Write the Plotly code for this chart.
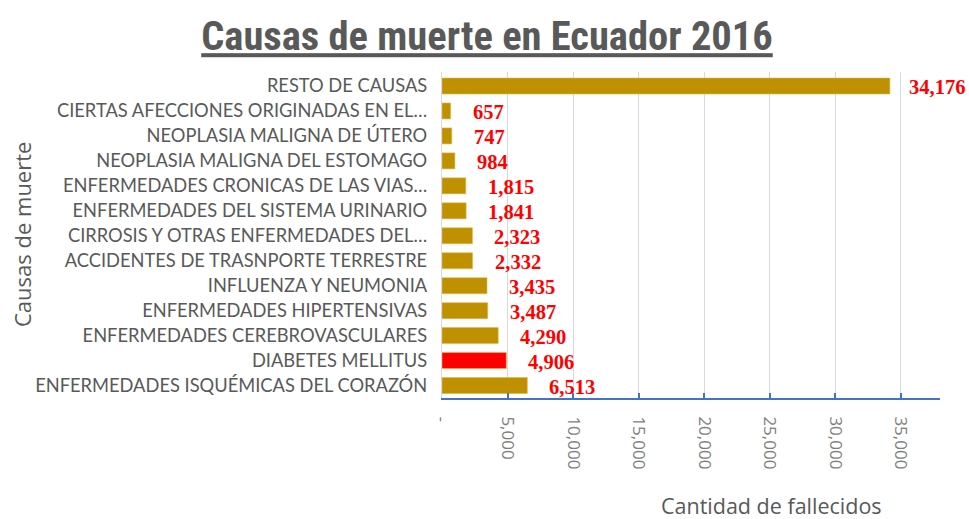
import plotly.graph_objects as go

causas = [
    "RESTO DE CAUSAS",
    "CIERTAS AFECCIONES ORIGINADAS EN EL…",
    "NEOPLASIA MALIGNA DE ÚTERO",
    "NEOPLASIA MALIGNA DEL ESTOMAGO",
    "ENFERMEDADES CRONICAS DE LAS VIAS…",
    "ENFERMEDADES DEL SISTEMA URINARIO",
    "CIRROSIS Y OTRAS ENFERMEDADES DEL…",
    "ACCIDENTES DE TRASNPORTE TERRESTRE",
    "INFLUENZA Y NEUMONIA",
    "ENFERMEDADES HIPERTENSIVAS",
    "ENFERMEDADES CEREBROVASCULARES",
    "DIABETES MELLITUS",
    "ENFERMEDADES ISQUÉMICAS DEL CORAZÓN",
]
fallecidos = [34176, 657, 747, 984, 1815, 1841, 2323, 2332, 3435, 3487, 4290, 4906, 6513]
colores = ["#BF9000"] * 11 + ["#FF0000", "#BF9000"]
tick_vals = [0, 5000, 10000, 15000, 20000, 25000, 30000, 35000]
tick_text = ["-", "5,000", "10,000", "15,000", "20,000", "25,000", "30,000", "35,000"]

W, H = 969, 519
L, R, T, B = 442, 29, 72, 121
PW, PH = W - L - R, H - T - B

fig = go.Figure()
fig.add_trace(go.Bar(
    y=causas, x=fallecidos, orientation="h",
    marker=dict(color=colores, line=dict(color="#E0B84A", width=0.6)),
    hoverinfo="x+y",
))

for c, v in zip(causas, fallecidos):
    fig.add_annotation(
        x=v, y=c, xref="x", yref="y", text="<b>{:,}</b>".format(v),
        showarrow=False, xanchor="left", xshift=(17 if v > 30000 else 20), yshift=-1,
        font=dict(family="Liberation Serif", size=20.5, color="#FF0000"),
    )

fig.update_layout(
    width=W, height=H,
    margin=dict(l=L, r=R, t=T, b=B, autoexpand=False),
    paper_bgcolor="white", plot_bgcolor="white",
    bargap=0.36,
    showlegend=False,
    title=dict(
        text="<b>Causas de muerte en Ecuador 2016</b>",
        x=487 / W, xanchor="center", y=1 - 36 / H, yanchor="middle",
        font=dict(family="Roboto Condensed, Liberation Sans Narrow, Liberation Sans", size=40.5, color="#595959",
                  lineposition="under"),
    ),
    xaxis=dict(
        range=[0, 38000], tickvals=tick_vals, ticktext=tick_text,
        tickangle=90, showgrid=True, gridcolor="#D9D9D9", gridwidth=1.3,
        zeroline=False, showline=True, linecolor="#4472C4", linewidth=2,
        ticks="inside", ticklen=5, tickcolor="#4472C4", tickwidth=1.5,
        tickfont=dict(family="Open Sans", size=17, color="#7F7F7F"),
        ticklabelstandoff=13,
    ),
    yaxis=dict(
        autorange="reversed", showline=True, linecolor="#D9D9D9", linewidth=1.3,
        showgrid=False, ticks="", ticklabelstandoff=10,
        tickfont=dict(family="Lato", size=18.3, color="#595959"),
    ),
    annotations=list(fig.layout.annotations) + [
        dict(text="Causas de muerte", xref="paper", yref="paper", x=-(L - 22) / PW, y=(398 - 235) / PH,
             xanchor="center", yanchor="middle", textangle=-90, showarrow=False,
             font=dict(family="Open Sans", size=22, color="#595959")),
        dict(text="Cantidad de fallecidos", xref="paper", yref="paper", x=(771 - L) / PW, y=-(505 - 398) / PH,
             xanchor="center", yanchor="middle", showarrow=False,
             font=dict(family="Open Sans", size=21.5, color="#595959")),
    ],
)

fig.write_html(
    "out.html",
    config={"displayModeBar": False},
    post_script="document.body.style.margin='0';document.body.style.overflow='hidden';",
)
